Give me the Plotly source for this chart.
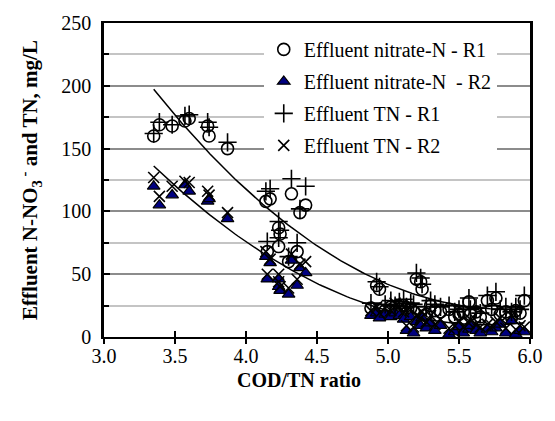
import numpy as np
import plotly.graph_objects as go

# COD/TN ratio of each sample
cod_tn = [3.35, 3.39, 3.48, 3.57, 3.60, 3.73, 3.74, 3.87,
          4.14, 4.15, 4.17, 4.23, 4.23, 4.24, 4.30, 4.32, 4.36, 4.38, 4.42,
          4.88, 4.92, 4.94, 4.98, 5.02, 5.05, 5.08, 5.11, 5.13, 5.16, 5.18,
          5.20, 5.23, 5.24, 5.27, 5.30, 5.33, 5.37, 5.43, 5.47, 5.50, 5.53,
          5.57, 5.58, 5.62, 5.65, 5.70, 5.73, 5.76, 5.79, 5.83, 5.87, 5.90,
          5.93, 5.96]
nitrate_r1 = [160, 169, 168, 172, 174, 168, 160, 150,
              108, 68, 110, 87, 72, 82, 60, 114, 68, 99, 105,
              23, 41, 38, 21, 24, 20, 22, 25, 19, 23, 20,
              46, 44, 38, 18, 25, 21, 20, 22, 16, 18, 20,
              28, 18, 20, 16, 29, 22, 31, 18, 20, 16, 21,
              19, 29]
nitrate_r2 = [120, 105, 113, 121, 116, 108, 110, 94,
              64, 46, 59, 46, 40, 37, 34, 61, 41, 55, 51,
              17, 19, 15, 18, 16, 19, 17, 14, 5, 16, 3,
              12, 9, 15, 7, 11, 5, 9, 2, 4, 8, 3,
              6, 9, 5, 3, 6, 4, 7, 10, 3, 13, 2,
              5, 4]
tn_r1 = [162, 171, 169, 176, 177, 171, 167, 155,
         116, 76, 118, 92, 79, 85, 64, 126, 75, 102, 120,
         27, 44, 40, 26, 29, 25, 28, 30, 24, 27, 26,
         51, 47, 42, 24, 29, 26, 24, 25, 20, 22, 24,
         31, 22, 23, 19, 33, 25, 36, 22, 24, 20, 24,
         22, 33]
tn_r2 = [127, 112, 120, 124, 123, 116, 113, 99,
         68, 50, 62, 50, 44, 40, 39, 66, 46, 58, 60,
         21, 24, 19, 23, 21, 27, 24, 20, 9, 22, 8,
         17, 15, 20, 12, 17, 10, 14, 7, 9, 13, 8,
         11, 14, 10, 8, 10, 9, 12, 15, 7, 17, 6,
         9, 8]

series_names = ["Effluent nitrate-N - R1",
                "Effluent nitrate-N\u00a0 - R2",
                "Effluent TN - R1",
                "Effluent TN - R2"]

x_range = [3.0, 6.0]
y_range = [0, 250]
x_ticks = [3.0, 3.5, 4.0, 4.5, 5.0, 5.5, 6.0]
y_ticks = [0, 50, 100, 150, 200, 250]

FONT = "Liberation Serif, Times New Roman, serif"

fig = go.Figure()

# quadratic trend lines
xs = np.linspace(min(cod_tn), max(cod_tn), 120)
for ys in (tn_r1, tn_r2):
    c = np.polyfit(cod_tn, ys, 2)
    fig.add_trace(go.Scatter(x=xs, y=np.polyval(c, xs), mode="lines",
                             line=dict(color="black", width=1.5),
                             showlegend=False, hoverinfo="skip"))

styles = [
    dict(symbol="circle-open", size=12, color="black", line=dict(width=1.6, color="black")),
    dict(symbol="triangle-up", size=11, color="#000080", line=dict(width=1.2, color="black")),
    dict(symbol="cross-thin", size=13, color="black", line=dict(width=1.6, color="black")),
    dict(symbol="x-thin", size=11, color="black", line=dict(width=1.6, color="black")),
]
for i, (name, vals) in enumerate(zip(series_names, [nitrate_r1, nitrate_r2, tn_r1, tn_r2])):
    fig.add_trace(go.Scatter(x=cod_tn, y=vals, mode="markers", name=name,
                             marker=styles[i], legendgroup=f"g{i}"))

# helper trace for the outside half of the crossing x ticks
fig.add_trace(go.Scatter(x=[3.0], y=[0], xaxis="x2", mode="markers",
                         marker=dict(opacity=0), showlegend=False, hoverinfo="skip"))

fig.update_layout(
    width=555, height=421,
    margin=dict(l=104, r=22, t=16, b=84),
    paper_bgcolor="white", plot_bgcolor="white",
    font=dict(family=FONT, size=20, color="black"),
    showlegend=True,
    legend=dict(x=0.375, y=0.978, xanchor="left", yanchor="top",
                bgcolor="white", borderwidth=0,
                font=dict(family=FONT, size=20, color="black"),
                tracegroupgap=3, itemwidth=30),
    xaxis=dict(range=x_range, tickvals=x_ticks, ticktext=[f"{v:.1f}" for v in x_ticks],
               showgrid=False, zeroline=False, showline=True, linecolor="black",
               linewidth=2, mirror=True, ticks="inside", ticklen=6, tickwidth=2,
               tickcolor="black", ticklabelstandoff=0),
    xaxis2=dict(range=x_range, overlaying="x", anchor="y", side="bottom",
                tickvals=x_ticks, showticklabels=False, ticks="outside", ticklen=6,
                tickwidth=2, tickcolor="black", showgrid=False, zeroline=False,
                showline=False),
    yaxis=dict(range=y_range, tickvals=y_ticks, showgrid=True, gridcolor="#8c8c8c",
               gridwidth=1.5, zeroline=False, showline=True, linecolor="black",
               linewidth=2.5, mirror=True, ticks="inside", ticklen=6, tickwidth=2,
               tickcolor="black", ticklabelstandoff=6,
               minor=dict(dtick=25, tick0=0, showgrid=True, gridcolor="#c4c4c4",
                          gridwidth=1.5, ticks="inside", ticklen=5, tickcolor="black"),
               title=dict(text="<b>Effluent N-NO<sub>3</sub><sup> -</sup> and TN, mg/L</b>",
                          font=dict(size=21), standoff=18)),
    annotations=[dict(text="<b>COD/TN ratio</b>", xref="paper", yref="paper",
                      x=(300 - 104) / 429, y=-(381 - 337) / 321,
                      xanchor="center", yanchor="middle", showarrow=False,
                      font=dict(family=FONT, size=20, color="black"))],
)

fig.write_html("out.html", config={"displayModeBar": False},
               post_script="document.body.style.margin='0px';")
